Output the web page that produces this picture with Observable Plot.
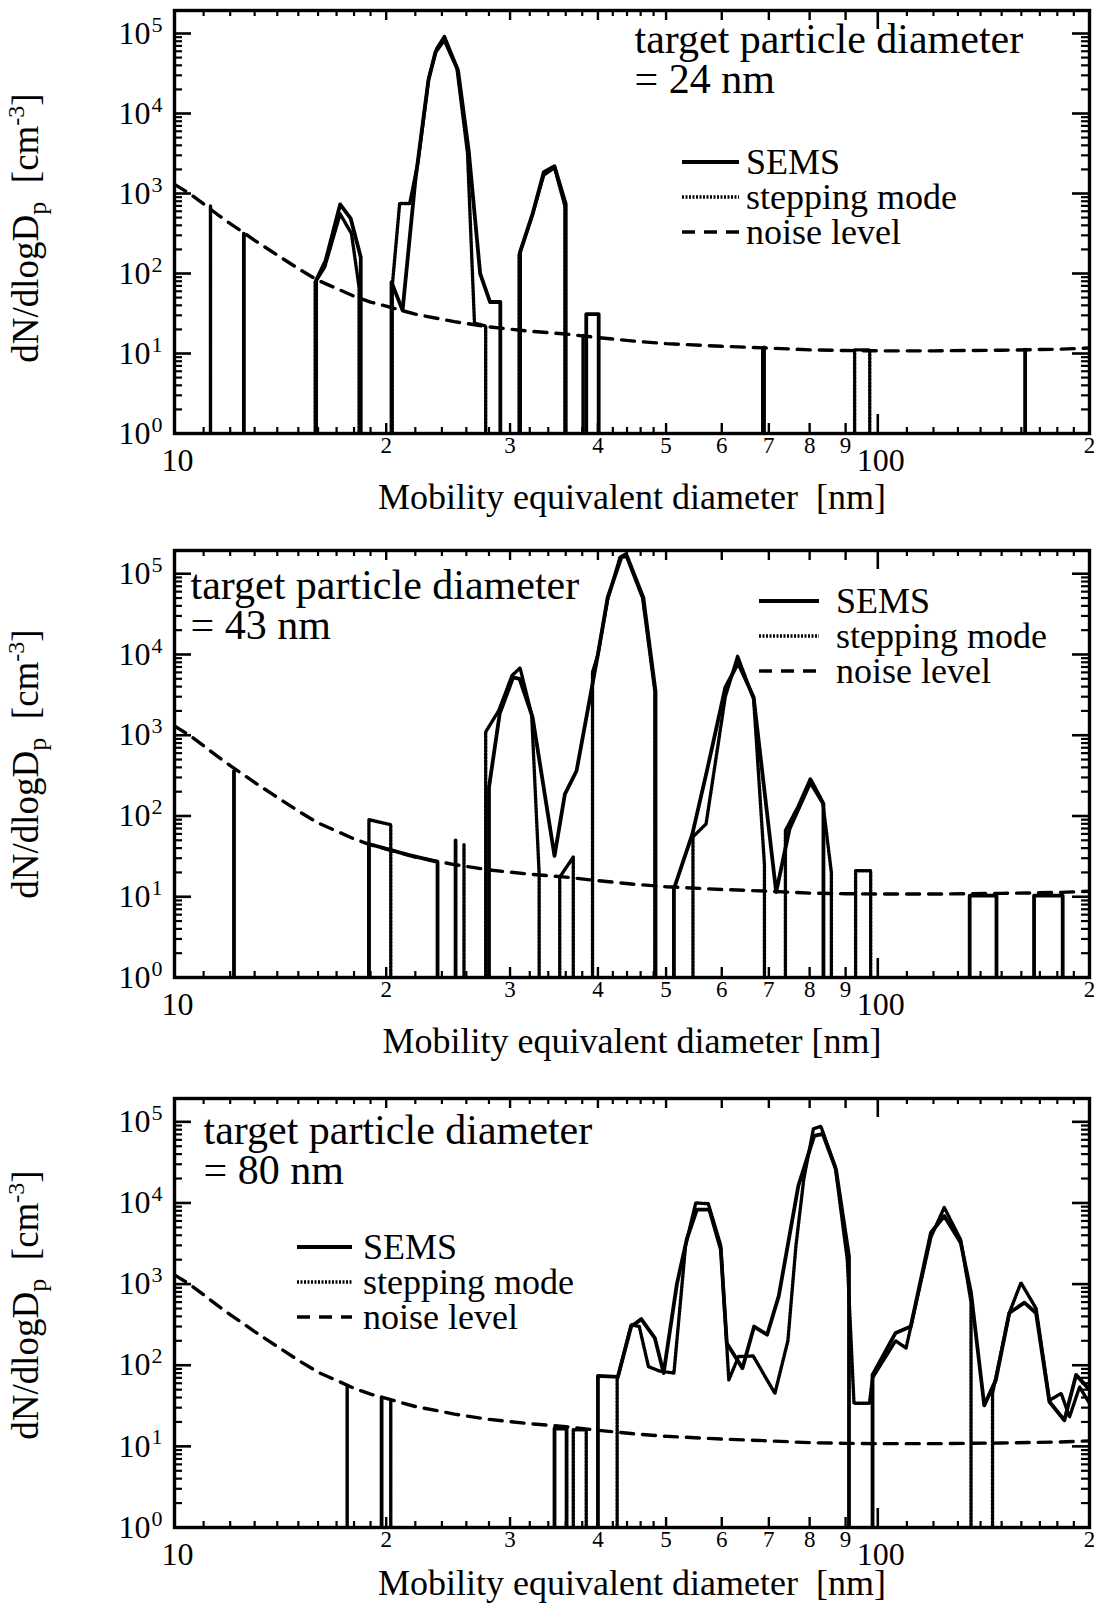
<!DOCTYPE html>
<html><head><meta charset="utf-8">
<script src="https://cdn.jsdelivr.net/npm/d3@7"></script>
<script src="https://cdn.jsdelivr.net/npm/@observablehq/plot@0.6"></script>
<style>
html,body{margin:0;padding:0;background:#fff;}
#root{position:relative;width:1094px;height:1605px;overflow:hidden;background:#fff;}
.panel{position:absolute;left:0;}
.legend{position:absolute;font-family:"Liberation Serif",serif;font-size:36px;color:#000;}
.row{display:flex;align-items:center;height:35px;white-space:nowrap;}
.row svg{display:block;flex:none;}
</style></head><body><div id="root"></div>
<script>
// ---------- data ----------
// noise level (same in all panels)
const noiseD = [10, 10.5, 11, 11.5, 12, 12.5, 13, 14, 15, 16, 17, 18, 19, 20, 22, 25, 28, 32, 36, 40, 45, 50, 60, 70, 80, 90, 100, 120, 150, 180, 200];
const noiseV = [1300, 1000, 740, 550, 420, 330, 260, 170, 115, 82, 65, 52, 44, 39, 31, 25, 21.5, 19, 17.5, 15.8, 14.3, 13.3, 12.3, 11.7, 11.1, 10.9, 10.8, 10.8, 11.0, 11.3, 11.7];

// panel 1: target 24 nm
const sems1D = [12.0, 12.55, 13.0, 15.9, 16.4, 17.2, 17.8, 18.4, 19.0, 20.35, 21.1, 22.0, 22.96, 23.5, 24.2, 25.3, 26.2, 27.2, 28.1, 29.06, 30.0, 31.0, 32.3, 33.5, 34.7, 36.0, 37.3, 38.5, 40.1, 41.5, 68.9, 71, 162, 168];
const sems1V = [0, 316, 0, 82, 145, 730, 490, 160, 0, 78, 34.6, 1450, 25900, 58600, 83000, 34600, 3450, 100, 44, 44, 0, 185, 560, 1850, 2190, 740, 0, 31, 31, 0, 11.9, 0, 11.2, 0];
const step1D = [11.0, 11.25, 11.6, 15.85, 16.35, 17.2, 17.85, 18.3, 19.0, 20.4, 20.9, 21.6, 22.2, 23.0, 23.6, 24.2, 25.2, 26.1, 26.7, 27.7, 28.5, 30.9, 32.2, 33.5, 34.7, 35.9, 37.0, 38.1, 38.8, 68.6, 71, 92.7, 97.4, 99];
const step1V = [0, 700, 0, 78, 120, 555, 316, 67, 0, 70, 750, 750, 2500, 28000, 65000, 92000, 38000, 3200, 24, 22, 0, 170, 500, 1700, 2100, 700, 0, 17, 0, 11.7, 0, 11.1, 11.1, 0];

// panel 2: target 43 nm
const sems2D = [11.8, 12.15, 12.5, 18.9, 21.5, 23.66, 24.3, 25.1, 25.5, 28.0, 29.0, 30.3, 30.95, 32.3, 34.7, 35.9, 37.3, 40.0, 41.3, 43.2, 44.0, 46.4, 48.3, 49.8, 51.3, 54.5, 57.3, 60.7, 63.3, 66.6, 71.7, 74.9, 80.2, 83.7, 90, 135.1, 147.5, 155, 166.8, 183.2, 190];
const sems2V = [0, 360, 0, 45, 33, 27, 0, 50, 0, 226, 1850, 5200, 5000, 1660, 32, 187, 363, 10000, 51000, 160000, 165000, 51000, 3500, 0, 12.5, 60, 400, 3900, 7800, 2950, 11.4, 69, 260, 141, 0, 10.3, 10.3, 0, 10.3, 10.3, 0];
const step2D = [18.5, 18.9, 20.3, 21, 25.4, 25.8, 26.5, 27.7, 28.9, 30.2, 31.0, 32.2, 33.0, 34, 35.3, 36.9, 38, 39.3, 40.0, 41.3, 43.0, 43.8, 46.3, 48.2, 51, 54.6, 57.0, 60.7, 63.2, 66.6, 69.0, 71, 73.9, 77.0, 80.2, 83.5, 85.9, 90, 93.0, 97.7, 100];
const step2V = [0, 90, 78, 0, 0, 45, 0, 1100, 2000, 5500, 6800, 1800, 19, 0, 17.5, 31, 0, 6000, 10000, 48000, 160000, 175000, 50000, 3500, 0, 55, 80, 3000, 9500, 2800, 25, 0, 66, 130, 290, 150, 20, 0, 21, 21, 0];

// panel 3: target 80 nm
const sems3D = [19.3, 19.7, 20.2, 34.0, 34.7, 36.1, 37, 40.0, 42.7, 44.6, 46.1, 48.2, 49.6, 51.8, 53.5, 55.3, 57.6, 59.8, 61.0, 64.2, 66.7, 69.6, 72.3, 77.1, 81.2, 83.5, 87.2, 91.0, 95, 98.3, 106, 111.4, 119, 124.3, 131.2, 135.7, 141.7, 147.2, 153.8, 161.6, 167.9, 175.4, 184.2, 191.4, 200];
const sems3V = [0, 40, 0, 0, 16.6, 16.6, 0, 74, 72, 300, 370, 216, 80, 1000, 3550, 8300, 8300, 2700, 187, 92, 300, 238, 710, 16300, 67000, 71000, 26000, 2200, 0, 76, 250, 300, 4300, 6900, 3240, 780, 32, 66, 440, 590, 440, 35.5, 21, 76, 50];
const step3D = [17.3, 17.6, 18, 20.0, 20.3, 20.7, 36.5, 36.9, 38.5, 39.5, 42.6, 44.6, 45.8, 47.2, 48.9, 51.3, 53.3, 55.1, 57.4, 59.8, 61.4, 63.4, 66.5, 71.4, 74.5, 76.5, 78.5, 81.0, 83.0, 87.0, 90.5, 92.5, 97.3, 98.3, 106, 109.7, 119, 124.3, 131.2, 135.7, 140, 145.6, 153.8, 159.8, 167.9, 175.4, 182.3, 187.3, 193.6, 200];
const step3V = [0, 55, 0, 0, 36, 0, 0, 16, 16, 0, 66, 316, 300, 96, 85, 80, 3000, 10000, 9800, 3000, 66, 128, 130, 45, 200, 3000, 20000, 82000, 88000, 28000, 2000, 34, 34, 70, 200, 163, 3800, 8800, 3500, 600, 0, 45, 440, 1040, 500, 37, 45, 23, 54, 34];

// ticks and labels
const xMinorTicks = [11, 12, 13, 14, 15, 16, 17, 18, 19, 22, 24, 26, 28, 32, 34, 36, 38, 42, 44, 46, 48, 110, 120, 130, 140, 150, 160, 170, 180, 190];
const xMidTicks = [20, 30, 40, 50, 60, 70, 80, 90];
const xMajorTicks = [100];
const xSmallLabels = [20, 30, 40, 50, 60, 70, 80, 90, 200];
const xBigLabels = [10, 100];
const yDecades = [1, 10, 100, 1000, 10000, 100000];
const yMajorTicks = [10, 100, 1000, 10000, 100000];
const yMinorTicks = [2, 3, 4, 5, 6, 7, 8, 9, 20, 30, 40, 50, 60, 70, 80, 90, 200, 300, 400, 500, 600, 700, 800, 900, 2000, 3000, 4000, 5000, 6000, 7000, 8000, 9000, 20000, 30000, 40000, 50000, 60000, 70000, 80000, 90000];
const legendItems = ["SEMS", "stepping mode", "noise level"];
const targets = ["24", "43", "80"];
const YLABEL = "dN/dlogDp  [cm-3]";

// ---------- drawing ----------
const FONT = "Liberation Serif";
const YMAX = Math.pow(10, 5.2875);
const FLOOR = 0.4;
const DASH_STEP = "2,1.5", DASH_NOISE = "13,9";

// zero values are drawn the way the original log plot shows them: straight down to the axis
function toPath(D, V) {
  const pts = [];
  for (let i = 0; i < D.length; i++) {
    if (V[i] > 0) pts.push({d: D[i], v: V[i]});
    else {
      if (i > 0 && V[i - 1] > 0) pts.push({d: D[i - 1], v: FLOOR});
      if (i < D.length - 1 && V[i + 1] > 0) pts.push({d: D[i + 1], v: FLOOR});
    }
  }
  return pts;
}

const layout = [
  {top: 0, height: 540, mt: 10, mb: 107, annDx: 460, annDy: 14, xlDy: 64, ylDy: 6, xlabel: "Mobility equivalent diameter\u00a0\u00a0[nm]", lx: 682, lw: 57, tx: 746, cy: 162},
  {top: 540, height: 550, mt: 10, mb: 113, annDx: 16, annDy: 20, xlDy: 64, ylDy: 0, xlabel: "Mobility equivalent diameter [nm]", lx: 759, lw: 60, tx: 836, cy: 601},
  {top: 1090, height: 515, mt: 8, mb: 78, annDx: 29, annDy: 17, xlDy: 56, ylDy: -8, xlabel: "Mobility equivalent diameter\u00a0\u00a0[nm]", lx: 297, lw: 55, tx: 363, cy: 1247}
];
const series = [
  [sems1D, sems1V, step1D, step1V],
  [sems2D, sems2V, step2D, step2V],
  [sems3D, sems3V, step3D, step3V]
];

const root = document.getElementById("root");
const noise = noiseD.map((d, i) => ({d, v: noiseV[i]}));

layout.forEach((L, k) => {
  const W = 1094, ml = 174, mr = 5;
  const fh = L.height - L.mt - L.mb, fw = W - ml - mr;
  const [sD, sV, tD, tV] = series[k];
  const sems = toPath(sD, sV), step = toPath(tD, tV);
  const svg = Plot.plot({
    width: W, height: L.height,
    marginLeft: ml, marginRight: mr, marginTop: L.mt, marginBottom: L.mb,
    style: {background: "#fff", fontFamily: FONT, color: "#000", overflow: "visible"},
    x: {type: "log", domain: [10, 200], axis: null},
    y: {type: "log", domain: [1, YMAX], axis: null},
    marks: [
      Plot.line(noise, {x: "d", y: "v", stroke: "#000", strokeWidth: 3.4, strokeDasharray: DASH_NOISE, clip: true}),
      Plot.line(step, {x: "d", y: "v", stroke: "#000", strokeWidth: 3.4, strokeDasharray: DASH_STEP, clip: true}),
      Plot.line(sems, {x: "d", y: "v", stroke: "#000", strokeWidth: 3.8, clip: true}),
      // inward ticks, bottom and top
      Plot.tickX(xMinorTicks, {x: d => d, insetTop: fh - 6, strokeWidth: 2.2}),
      Plot.tickX(xMinorTicks, {x: d => d, insetBottom: fh - 6, strokeWidth: 2.2}),
      Plot.tickX(xMidTicks, {x: d => d, insetTop: fh - 10, strokeWidth: 2.4}),
      Plot.tickX(xMidTicks, {x: d => d, insetBottom: fh - 10, strokeWidth: 2.4}),
      Plot.tickX(xMajorTicks, {x: d => d, insetTop: fh - 19, strokeWidth: 2.6}),
      Plot.tickX(xMajorTicks, {x: d => d, insetBottom: fh - 19, strokeWidth: 2.6}),
      // inward ticks, left and right
      Plot.tickY(yMinorTicks, {y: d => d, insetRight: fw - 8, strokeWidth: 2.2}),
      Plot.tickY(yMinorTicks, {y: d => d, insetLeft: fw - 8, strokeWidth: 2.2}),
      Plot.tickY(yMajorTicks, {y: d => d, insetRight: fw - 17, strokeWidth: 2.6}),
      Plot.tickY(yMajorTicks, {y: d => d, insetLeft: fw - 17, strokeWidth: 2.6}),
      Plot.frame({stroke: "#000", strokeWidth: 3.4}),
      // axis labels
      Plot.axisX({ticks: xSmallLabels, tickFormat: d => String(d >= 100 ? d / 100 : d / 10), tickSize: 0, tickPadding: 3, fontSize: 23, label: null, fontFamily: FONT}),
      Plot.axisX({ticks: xBigLabels, tickFormat: d => String(d), tickSize: 0, tickPadding: 15, fontSize: 32, dx: 3, label: null, fontFamily: FONT}),
      Plot.axisY({ticks: yDecades, tickFormat: () => "10", tickSize: 0, tickPadding: 24, fontSize: 32, label: null, fontFamily: FONT}),
      Plot.text(yDecades, {y: d => d, frameAnchor: "left", text: d => String(Math.round(Math.log10(d))), textAnchor: "start", lineAnchor: "middle", dx: -23, dy: -9, fontSize: 22, fontFamily: FONT}),
      Plot.text([L.xlabel], {frameAnchor: "bottom", textAnchor: "middle", lineAnchor: "middle", dy: L.xlDy, fontSize: 36, fontFamily: FONT}),
      Plot.text([YLABEL], {frameAnchor: "left", textAnchor: "middle", lineAnchor: "middle", rotate: -90, dx: -148, dy: L.ylDy, fontSize: 37, fontFamily: FONT}),
      // annotation
      Plot.text([`target particle diameter\n= ${targets[k]} nm`], {frameAnchor: "top-left", textAnchor: "start", lineAnchor: "top", lineHeight: 0.95, dx: L.annDx, dy: L.annDy, fontSize: 42, fontFamily: FONT})
    ]
  });
  // subscript / superscript in the y label
  d3.select(svg).selectAll("text").filter(function () { return this.textContent === YLABEL; }).each(function () {
    const t = d3.select(this);
    t.text(null);
    t.append("tspan").text("dN/dlogD");
    t.append("tspan").attr("dy", 8).attr("font-size", 26).text("p");
    t.append("tspan").attr("dy", -8).text("\u00a0\u00a0[cm");
    t.append("tspan").attr("dy", -14).attr("font-size", 24).text("-3");
    t.append("tspan").attr("dy", 14).text("]");
  });
  const wrap = document.createElement("div");
  wrap.className = "panel";
  wrap.style.top = L.top + "px";
  wrap.appendChild(svg);
  root.appendChild(wrap);

  // legend
  const lg = document.createElement("div");
  lg.className = "legend";
  lg.style.left = L.lx + "px";
  lg.style.top = (L.cy - 17.5) + "px";
  const dashes = [null, DASH_STEP, DASH_NOISE];
  const widths = [3.8, 3.4, 3.4];
  legendItems.forEach((name, i) => {
    const row = document.createElement("div");
    row.className = "row";
    const s = d3.create("svg").attr("width", L.lw).attr("height", 12);
    const ln = s.append("line").attr("x1", 0).attr("x2", L.lw).attr("y1", 6).attr("y2", 6)
      .attr("stroke", "#000").attr("stroke-width", widths[i]);
    if (dashes[i]) ln.attr("stroke-dasharray", dashes[i]);
    row.appendChild(s.node());
    const sp = document.createElement("span");
    sp.textContent = name;
    sp.style.marginLeft = (L.tx - L.lx - L.lw) + "px";
    row.appendChild(sp);
    lg.appendChild(row);
  });
  root.appendChild(lg);
});
</script></body></html>
